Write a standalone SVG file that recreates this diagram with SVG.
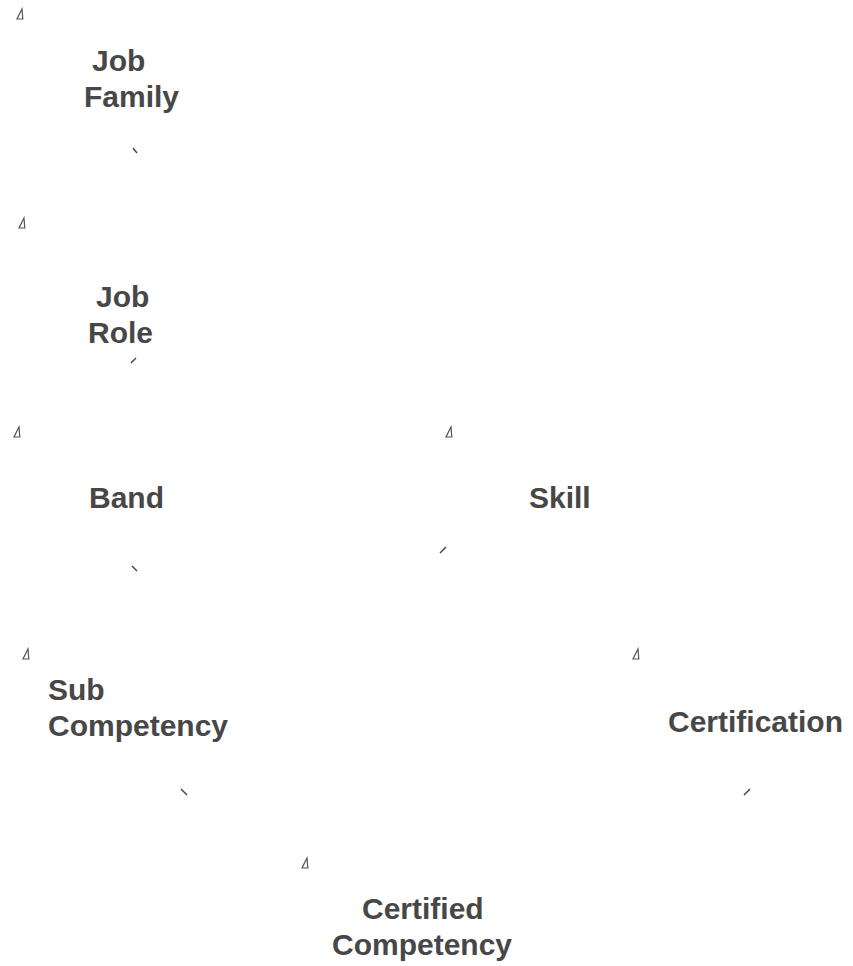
<svg xmlns="http://www.w3.org/2000/svg" width="853" height="966" viewBox="0 0 853 966">
<style>
.lbl{font-family:"Liberation Sans",Arial,sans-serif;font-weight:bold;font-size:30px;fill:#474747}
.tri{fill:none;stroke:#555;stroke-width:1.2;stroke-linejoin:miter}
.tick{stroke:#444;stroke-width:1.4;stroke-linecap:butt}
</style>
<defs>
<path id="tri" d="M5,0 L5.8,10 L0,10 Z"/>
</defs>
<rect width="853" height="966" fill="#fff"/>
<g id="connectors">
<line class="tick" x1="133" y1="148" x2="137" y2="153"/>
<line class="tick" x1="131" y1="363" x2="136" y2="358"/>
<line class="tick" x1="132" y1="566" x2="137" y2="571"/>
<line class="tick" x1="440" y1="553" x2="446" y2="547"/>
<line class="tick" x1="181" y1="789" x2="187" y2="795"/>
<line class="tick" x1="744" y1="795" x2="750" y2="789"/>
</g>
<g id="node-job-family">
<use href="#tri" class="tri" x="17" y="9"/>
<text class="lbl"><tspan x="92" y="71">Job</tspan><tspan x="84" y="107">Family</tspan></text>
</g>
<g id="node-job-role">
<use href="#tri" class="tri" x="19" y="218"/>
<text class="lbl"><tspan x="96" y="307">Job</tspan><tspan x="88" y="343">Role</tspan></text>
</g>
<g id="node-band">
<use href="#tri" class="tri" x="14" y="427"/>
<text class="lbl" x="89" y="508">Band</text>
</g>
<g id="node-skill">
<use href="#tri" class="tri" x="446" y="427"/>
<text class="lbl" x="529" y="508">Skill</text>
</g>
<g id="node-sub-competency">
<use href="#tri" class="tri" x="23" y="649"/>
<text class="lbl"><tspan x="48" y="700">Sub</tspan><tspan x="48" y="736">Competency</tspan></text>
</g>
<g id="node-certification">
<use href="#tri" class="tri" x="633" y="649"/>
<text class="lbl" x="668" y="732">Certification</text>
</g>
<g id="node-certified-competency">
<use href="#tri" class="tri" x="302" y="858"/>
<text class="lbl"><tspan x="362" y="919">Certified</tspan><tspan x="332" y="955">Competency</tspan></text>
</g>
</svg>
